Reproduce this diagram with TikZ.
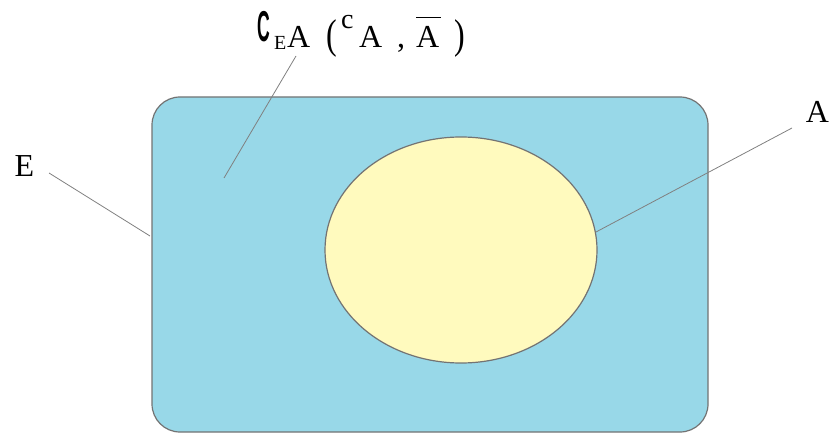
\documentclass[tikz,border=0pt]{standalone}
\usepackage{graphicx}
\usepackage{fontspec}
\setmainfont{Liberation Serif}
\setsansfont{Liberation Sans}
\usetikzlibrary{shapes.geometric}
\begin{document}
\begin{tikzpicture}[x=1pt,y=-1pt,
  setE/.style={draw=black!55,line width=1.2pt,fill=blueE,rounded corners=28pt},
  setA/.style={draw=black!55,line width=1.2pt,fill=yellowA},
  leader/.style={draw=black!50,line width=0.8pt},
  lbl/.style={font=\fontsize{32}{38}\selectfont,inner sep=0pt}]
\definecolor{blueE}{RGB}{152,216,232}
\definecolor{yellowA}{RGB}{255,250,190}
\useasboundingbox (0,0) rectangle (834,438);
\node[setE,minimum width=556pt,minimum height=335pt] (E) at (430,264.5) {};
\node[setA,ellipse,minimum width=272pt,minimum height=226pt,inner sep=0pt] (A) at (461,250) {};
\node[lbl,anchor=base] (lE) at (24.5,177) {E};
\node[lbl,anchor=base] (lA) at (817.5,123) {A};
\node[lbl,anchor=base west] (lC) at (257,48) {%
\rlap{\raisebox{6pt}{\scalebox{0.55}[1.35]{\sffamily\bfseries C}}}\hspace{17pt}%
\rlap{\raisebox{-2pt}{\fontsize{20}{22}\selectfont E}}\hspace{13pt}%
\rlap{A}\hspace{39pt}%
\rlap{\raisebox{-1pt}{\scalebox{1}[1.3]{(}}}\hspace{15pt}%
\rlap{\raisebox{19pt}{\fontsize{28}{30}\selectfont c}}\hspace{18pt}%
\rlap{A}\hspace{38pt}%
\rlap{,}\hspace{19pt}%
\rlap{\raisebox{30pt}{\rule{25pt}{1.4pt}}}\rlap{A}\hspace{38pt}%
\raisebox{-1pt}{\scalebox{1}[1.3]{)}}};
\coordinate (pE) at (150,236);
\coordinate (pC) at (224,178);
\coordinate (pA) at (596,232);
\coordinate (sE) at (49,173);
\coordinate (sC) at (296,56);
\coordinate (sA) at (792,128);
\draw[leader] (sE) -- (pE);
\draw[leader] (sC) -- (pC);
\draw[leader] (sA) -- (pA);
\end{tikzpicture}
\end{document}
